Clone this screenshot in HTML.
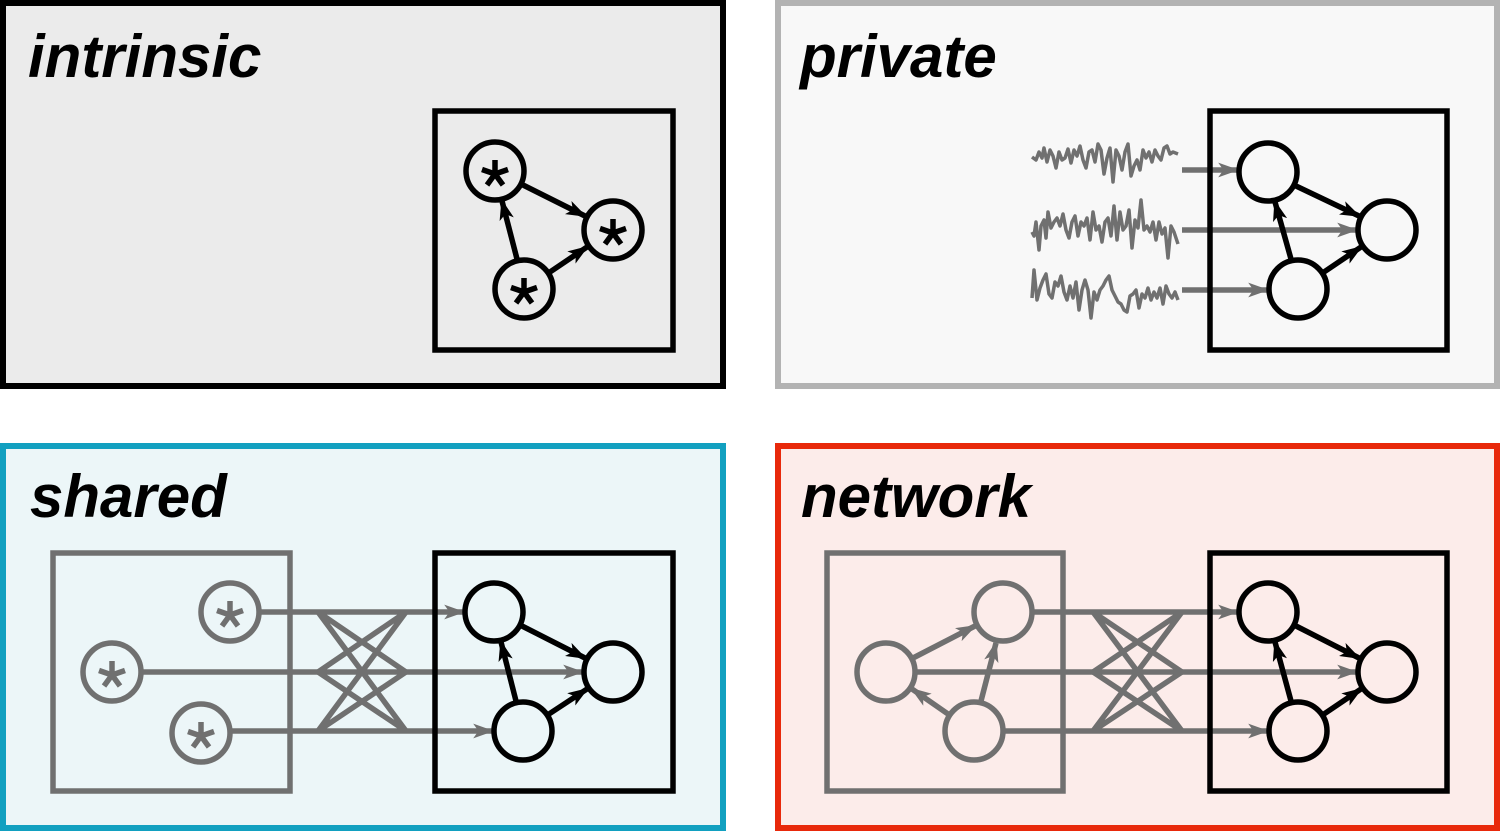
<!DOCTYPE html>
<html><head><meta charset="utf-8"><style>
html,body{margin:0;padding:0;background:#fff;}
svg{display:block}
text{font-family:"Liberation Sans",sans-serif;font-weight:bold;font-style:italic;font-size:60px;fill:#000}
</style></head><body>
<svg width="1500" height="831" viewBox="0 0 1500 831" xmlns="http://www.w3.org/2000/svg">
<defs>
<marker id="ak" viewBox="0 0 20 14" markerWidth="3.8" markerHeight="2.66" refX="18" refY="7" orient="auto"><path d="M0,0 L20,7 L0,14 L5,7 z" fill="#000"/></marker>
<marker id="ag" viewBox="0 0 20 14" markerWidth="3.8" markerHeight="2.66" refX="18" refY="7" orient="auto"><path d="M0,0 L20,7 L0,14 L5,7 z" fill="#707070"/></marker>
<g id="ast"><path d="M0,-14 L0,0 M13,-4.5 L0,0 M8,11 L0,0 M-8,11 L0,0 M-13,-4.5 L0,0" stroke-width="5.5" stroke-linecap="butt"/></g>
</defs>

<rect x="3" y="3" width="720" height="383" fill="#ebebeb" stroke="#000" stroke-width="6"/>
<rect x="778" y="3" width="719" height="383" fill="#f8f8f8" stroke="#b3b3b3" stroke-width="6"/>
<rect x="3" y="446" width="720" height="382" fill="#ecf6f8" stroke="#12a0c0" stroke-width="6"/>
<rect x="778" y="446" width="719" height="382" fill="#fcecea" stroke="#e8290b" stroke-width="6"/>

<text x="28" y="77">intrinsic</text>
<text x="800" y="77">private</text>
<text x="30" y="517">shared</text>
<text x="801" y="517">network</text>

<g fill="none" stroke="#000" stroke-width="5.5">
<rect x="435" y="111" width="238" height="239"/>
<circle cx="495" cy="171" r="29"/><circle cx="613" cy="230" r="29"/><circle cx="524" cy="289" r="29"/>
<line x1="523" y1="185" x2="585" y2="216" marker-end="url(#ak)"/>
<line x1="517" y1="259" x2="502" y2="201" marker-end="url(#ak)"/>
<line x1="550" y1="272" x2="587" y2="247" marker-end="url(#ak)"/>
<use href="#ast" x="495" y="174" stroke="#000"/>
<use href="#ast" x="613" y="233" stroke="#000"/>
<use href="#ast" x="524" y="292" stroke="#000"/>
</g>

<g fill="none" stroke="#707070" stroke-width="3.5" stroke-linejoin="round">
<polyline points="1032,157 1036,160 1039,152 1042,158 1044,148 1047,162 1050,150 1053,156 1056,168 1059,152 1062,160 1065,158 1068,149 1071,163 1074,150 1077,156 1080,146 1083,160 1086,168 1089,152 1092,150 1095,162 1098,144 1101,150 1104,174 1107,158 1110,148 1113,182 1116,150 1119,156 1122,170 1125,152 1128,144 1131,176 1134,166 1137,160 1140,170 1143,150 1146,158 1149,152 1152,162 1155,150 1158,156 1161,160 1164,148 1167,146 1170,154 1173,152 1178,154"/>
<polyline points="1032,232 1034,236 1036,222 1039,250 1041,226 1044,220 1046,238 1048,212 1051,228 1054,222 1057,218 1060,226 1063,214 1066,230 1069,238 1072,222 1075,216 1078,236 1081,222 1084,226 1087,218 1090,240 1093,212 1096,230 1099,226 1102,242 1105,222 1108,218 1111,236 1114,206 1117,240 1120,212 1123,230 1126,226 1129,210 1132,248 1135,220 1138,228 1141,200 1144,230 1147,226 1150,232 1153,222 1156,240 1159,222 1162,234 1165,228 1168,258 1171,226 1174,232 1178,244"/>
<polyline points="1032,298 1034,270 1037,300 1040,288 1043,280 1046,274 1049,294 1052,298 1055,282 1058,286 1061,276 1064,292 1067,300 1070,286 1073,298 1076,282 1079,310 1082,290 1085,280 1088,290 1091,318 1094,292 1097,300 1100,290 1103,286 1106,280 1109,276 1112,290 1115,296 1118,302 1121,304 1124,310 1127,312 1130,296 1133,294 1136,290 1139,308 1142,294 1145,298 1148,288 1151,300 1154,292 1157,298 1160,288 1163,304 1166,286 1169,294 1172,298 1175,292 1178,300"/>
<line x1="1182" y1="170" x2="1237" y2="170" stroke-width="5.5" marker-end="url(#ag)"/>
<line x1="1182" y1="230" x2="1356" y2="230" stroke-width="5.5" marker-end="url(#ag)"/>
<line x1="1182" y1="290" x2="1267" y2="290" stroke-width="5.5" marker-end="url(#ag)"/>
</g>
<g fill="none" stroke="#000" stroke-width="5.5">
<rect x="1210" y="111" width="237" height="239"/>
<circle cx="1268" cy="172" r="29"/><circle cx="1387" cy="230" r="29"/><circle cx="1298" cy="289" r="29"/>
<line x1="1296" y1="186" x2="1359" y2="216" marker-end="url(#ak)"/>
<line x1="1291" y1="259" x2="1275" y2="202" marker-end="url(#ak)"/>
<line x1="1324" y1="272" x2="1361" y2="247" marker-end="url(#ak)"/>
</g>

<g fill="none" stroke="#707070" stroke-width="5.5">
<rect x="53" y="553" width="237" height="238"/>
<circle cx="230" cy="612" r="29"/><circle cx="112" cy="672" r="29"/><circle cx="201" cy="733" r="29"/>
<use href="#ast" x="230" y="615" stroke="#707070"/>
<use href="#ast" x="112" y="675" stroke="#707070"/>
<use href="#ast" x="201" y="736" stroke="#707070"/>
<line x1="259" y1="612" x2="318" y2="612"/>
<line x1="141" y1="672" x2="318" y2="672"/>
<line x1="230" y1="731" x2="318" y2="731"/>
<path d="M318,612 L406,612 M318,612 L406,672 M318,612 L406,731 M318,672 L406,612 M318,672 L406,672 M318,672 L406,731 M318,731 L406,612 M318,731 L406,672 M318,731 L406,731"/>
<line x1="406" y1="612" x2="463" y2="612" marker-end="url(#ag)"/>
<line x1="406" y1="672" x2="582" y2="672" marker-end="url(#ag)"/>
<line x1="406" y1="731" x2="492" y2="731" marker-end="url(#ag)"/>
</g>
<g fill="none" stroke="#000" stroke-width="5.5">
<rect x="435" y="553" width="238" height="238"/>
<circle cx="494" cy="612" r="29"/><circle cx="613" cy="672" r="29"/><circle cx="523" cy="731" r="29"/>
<line x1="522" y1="626" x2="585" y2="658" marker-end="url(#ak)"/>
<line x1="516" y1="701" x2="501" y2="642" marker-end="url(#ak)"/>
<line x1="549" y1="714" x2="587" y2="689" marker-end="url(#ak)"/>
</g>

<g fill="none" stroke="#707070" stroke-width="5.5">
<rect x="827" y="553" width="236" height="238"/>
<circle cx="1003" cy="612" r="29"/><circle cx="886" cy="672" r="29"/><circle cx="974" cy="731" r="29"/>
<line x1="913" y1="658" x2="975" y2="626" marker-end="url(#ag)"/>
<line x1="981" y1="701" x2="996" y2="643" marker-end="url(#ag)"/>
<line x1="948" y1="714" x2="912" y2="689" marker-end="url(#ag)"/>
<line x1="1032" y1="612" x2="1093" y2="612"/>
<line x1="915" y1="672" x2="1093" y2="672"/>
<line x1="1003" y1="731" x2="1093" y2="731"/>
<path d="M1093,612 L1182,612 M1093,612 L1182,672 M1093,612 L1182,731 M1093,672 L1182,612 M1093,672 L1182,672 M1093,672 L1182,731 M1093,731 L1182,612 M1093,731 L1182,672 M1093,731 L1182,731"/>
<line x1="1182" y1="612" x2="1237" y2="612" marker-end="url(#ag)"/>
<line x1="1182" y1="672" x2="1356" y2="672" marker-end="url(#ag)"/>
<line x1="1182" y1="731" x2="1267" y2="731" marker-end="url(#ag)"/>
</g>
<g fill="none" stroke="#000" stroke-width="5.5">
<rect x="1210" y="553" width="237" height="238"/>
<circle cx="1268" cy="612" r="29"/><circle cx="1387" cy="672" r="29"/><circle cx="1298" cy="731" r="29"/>
<line x1="1296" y1="626" x2="1359" y2="658" marker-end="url(#ak)"/>
<line x1="1291" y1="701" x2="1275" y2="642" marker-end="url(#ak)"/>
<line x1="1324" y1="714" x2="1361" y2="689" marker-end="url(#ak)"/>
</g>
</svg>
</body></html>
